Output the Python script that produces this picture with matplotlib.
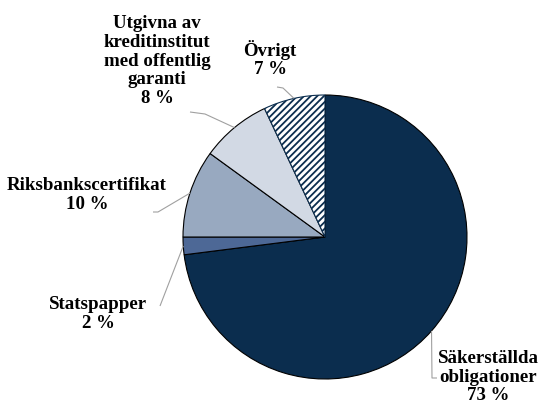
import numpy as np
import matplotlib
matplotlib.use('Agg')
import matplotlib.pyplot as plt

# andelar i procent, medurs från kl 12
labels = ['Säkerställda\nobligationer', 'Statspapper', 'Riksbankscertifikat',
          'Utgivna av\nkreditinstitut\nmed offentlig\ngaranti', 'Övrigt']
values = [73, 2, 10, 8, 7]
colors = ['#0b2d4e', '#4d6896', '#98a9c0', '#d2d9e4', 'white']

plt.rcParams['font.family'] = ['Liberation Serif', 'DejaVu Serif']
plt.rcParams['hatch.linewidth'] = 1.3

W, H = 555, 407
fig = plt.figure(figsize=(W / 100, H / 100), dpi=100)
ax = fig.add_axes([0, 0, 1, 1])

cx, cy, R = 325, H - 237, 142
wedges, _ = ax.pie(values, colors=colors, startangle=90, counterclock=False,
                   center=(cx, cy), radius=R,
                   wedgeprops=dict(edgecolor='black', linewidth=0.8))
wedges[-1].set_hatch('/////')
wedges[-1].set_edgecolor('#0b2d4e')

ax.set_xlim(0, W)
ax.set_ylim(0, H)
ax.set_aspect('equal')
ax.axis('off')

# textplacering (pixel, y nedifrån) och knäpunkt för ledarlinjen
text_pos = [(488, H - 377), (98, H - 314), (87, H - 195), (157, H - 61), (270, H - 59)]
elbows = [(432, H - 378), (160, H - 306), (158, H - 212), (205, H - 114), (283, H - 88)]
starts = [(437, H - 378), (160, H - 306), (153, H - 212), (190, H - 112), (277, H - 87)]

for w, lab, v, tp, el, st in zip(wedges, labels, values, text_pos, elbows, starts):
    mid = np.deg2rad((w.theta1 + w.theta2) / 2)
    ex, ey = cx + R * np.cos(mid), cy + R * np.sin(mid)
    ax.plot([st[0], el[0], ex], [st[1], el[1], ey], color='#a0a0a0', lw=0.8,
            solid_capstyle='butt')
    ax.text(tp[0], tp[1], f'{lab}\n{v} %', ha='center', va='center',
            fontsize=13.6, fontweight='bold', linespacing=1.15)

fig.savefig('out.png', dpi=100)
